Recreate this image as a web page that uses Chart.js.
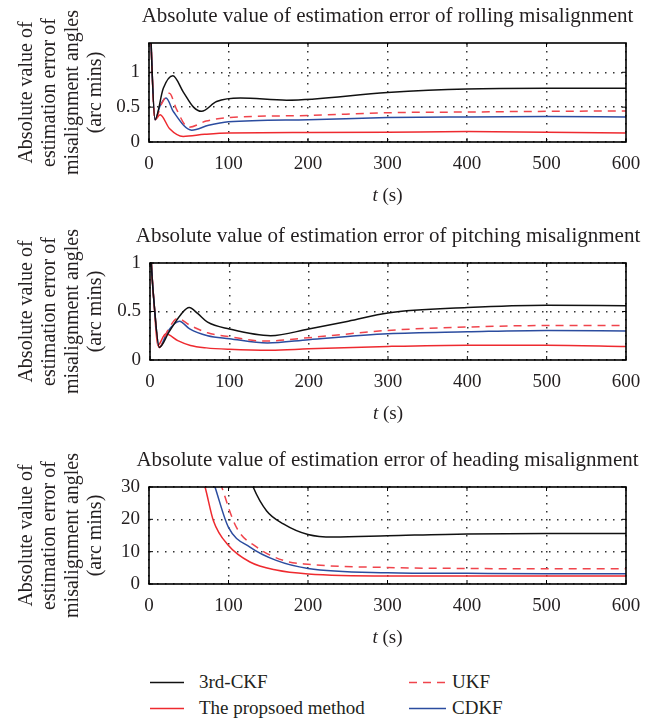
<!DOCTYPE html>
<html>
<head>
<meta charset="utf-8">
<script src="https://cdn.jsdelivr.net/npm/chart.js@4.4.0/dist/chart.umd.min.js"></script>
<style>
  body { margin: 0; background: #fff; }
  #wrap { position: relative; width: 669px; height: 724px; font-family: 'Liberation Serif', serif; color: #231f20; }
  .box { position: absolute; left: 0; width: 669px; }
  .leg { position: absolute; font-size: 19px; line-height: 22px; white-space: nowrap; }
</style>
</head>
<body>
<div id="wrap">
  <div class="box" style="top:0px;height:220px"><canvas id="roll-chart"></canvas></div>
  <div class="box" style="top:220px;height:222px"><canvas id="pitch-chart"></canvas></div>
  <div class="box" style="top:444px;height:206px"><canvas id="head-chart"></canvas></div>

  <svg class="leg" style="left:150px;top:681px" width="34" height="3"><line x1="0" y1="1.5" x2="34" y2="1.5" stroke="#111" stroke-width="1.5"/></svg>
  <div class="leg" style="left:199px;top:671px">3rd-CKF</div>
  <svg class="leg" style="left:409px;top:681px" width="37" height="3"><line x1="0" y1="1.5" x2="37" y2="1.5" stroke="#f0444c" stroke-width="1.5" stroke-dasharray="8,6"/></svg>
  <div class="leg" style="left:452px;top:671px">UKF</div>
  <svg class="leg" style="left:150px;top:707px" width="34" height="3"><line x1="0" y1="1.5" x2="34" y2="1.5" stroke="#ee2a2f" stroke-width="1.5"/></svg>
  <div class="leg" style="left:199px;top:697px">The propsoed method</div>
  <svg class="leg" style="left:409px;top:707px" width="37" height="3"><line x1="0" y1="1.5" x2="37" y2="1.5" stroke="#2b4c9f" stroke-width="1.5"/></svg>
  <div class="leg" style="left:452px;top:697px">CDKF</div>
</div>

<script>
let timeTicks = [0, 100, 200, 300, 400, 500, 600]
let rollTicks = [0, 0.5, 1]
let pitchTicks = [0, 0.5, 1]
let headTicks = [0, 10, 20, 30]

let yTitle = ['Absolute value of', 'estimation error of', 'misalignment angles', '(arc mins)']

// rolling misalignment (t in s, value in arc mins)
let roll_ckf_t = [0, 3, 7.5, 18, 30, 43, 56, 66, 85, 115, 173, 300, 400, 500, 600]
let roll_ckf = [2.5, 1.3, 0.32, 0.77, 0.95, 0.72, 0.50, 0.44, 0.58, 0.63, 0.60, 0.71, 0.76, 0.77, 0.77]
let roll_new_t = [0, 3, 7.5, 14, 26, 43, 70, 100, 200, 300, 400, 500, 600]
let roll_new = [2.5, 1.3, 0.32, 0.39, 0.19, 0.08, 0.11, 0.13, 0.135, 0.14, 0.15, 0.14, 0.13]
let roll_ukf_t = [0, 3, 7.5, 16, 25.6, 35, 49.5, 72, 100, 200, 300, 400, 500, 600]
let roll_ukf = [2.5, 1.3, 0.32, 0.55, 0.70, 0.46, 0.21, 0.30, 0.35, 0.38, 0.42, 0.43, 0.44, 0.445]
let roll_cdkf_t = [0, 3, 7.5, 14, 21.4, 31, 53.7, 75, 100, 200, 300, 400, 500, 600]
let roll_cdkf = [2.5, 1.3, 0.32, 0.52, 0.63, 0.43, 0.17, 0.24, 0.29, 0.32, 0.35, 0.36, 0.365, 0.36]

// pitching misalignment
let pitch_ckf_t = [0, 2, 5, 11.7, 24, 39, 49.5, 60, 72.6, 100, 152, 200, 250, 300, 400, 500, 600]
let pitch_ckf = [1.3, 0.95, 0.6, 0.13, 0.29, 0.47, 0.54, 0.48, 0.39, 0.32, 0.25, 0.32, 0.40, 0.485, 0.54, 0.565, 0.56]
let pitch_new_t = [0, 2, 5, 9.7, 20, 35, 51, 71, 100, 152, 200, 300, 400, 500, 600]
let pitch_new = [1.3, 0.95, 0.6, 0.15, 0.27, 0.20, 0.15, 0.125, 0.11, 0.10, 0.115, 0.14, 0.153, 0.153, 0.14]
let pitch_ukf_t = [0, 2, 5, 11.7, 22, 35, 50, 72.6, 100, 144, 200, 300, 400, 500, 600]
let pitch_ukf = [1.3, 0.95, 0.6, 0.13, 0.30, 0.43, 0.36, 0.28, 0.24, 0.195, 0.23, 0.305, 0.34, 0.355, 0.355]
let pitch_cdkf_t = [0, 2, 5, 11.7, 22, 37, 50, 72.6, 100, 148, 200, 300, 400, 500, 600]
let pitch_cdkf = [1.3, 0.95, 0.6, 0.13, 0.29, 0.40, 0.32, 0.25, 0.22, 0.175, 0.21, 0.27, 0.29, 0.305, 0.30]

// heading misalignment
let head_ckf_t = [100, 120, 131, 148, 169, 200, 232, 300, 400, 500, 600]
let head_ckf = [60, 38, 30, 22.6, 18.6, 15.3, 14.5, 14.9, 15.5, 15.6, 15.6]
let head_new_t = [50, 60, 70.5, 81, 100, 127, 160, 200, 300, 400, 500, 600]
let head_new = [50, 38, 30, 19.6, 11.9, 6.8, 4.3, 3.1, 2.5, 2.5, 2.5, 2.5]
let head_ukf_t = [70, 85, 91.5, 110, 135.6, 169, 200, 300, 400, 500, 600]
let head_ukf = [48, 35, 30, 17.5, 11.4, 7.3, 6.1, 5.1, 4.8, 4.7, 4.7]
let head_cdkf_t = [60, 75, 83, 100, 127, 160, 200, 300, 400, 500, 600]
let head_cdkf = [48, 36, 30, 17.5, 11.4, 7.3, 4.8, 3.5, 3.3, 3.2, 3.2]

let serif = "'Liberation Serif', serif"
let ink = '#231f20'

function pts(ts, vs) {
  return ts.map((t, i) => ({x: t, y: vs[i]}))
}

function line(label, ts, vs, color, dash) {
  return {
    label: label,
    data: pts(ts, vs),
    borderColor: color,
    borderWidth: 1.5,
    borderDash: dash || [],
    pointRadius: 0,
    fill: false,
    cubicInterpolationMode: 'monotone'
  }
}

// box + inner ticks like matlab, title over the plot, and the "t (s)" label
let framePlugin = {
  id: 'frame',
  afterDraw(chart, args, opts) {
    let ctx = chart.ctx
    let a = chart.chartArea
    let sx = chart.scales.x, sy = chart.scales.y
    ctx.save()
    ctx.strokeStyle = '#000'
    ctx.lineWidth = 1
    sx.ticks.forEach(tk => {
      let x = sx.getPixelForValue(tk.value)
      ctx.beginPath()
      ctx.moveTo(x, a.bottom); ctx.lineTo(x, a.bottom - 4)
      ctx.moveTo(x, a.top); ctx.lineTo(x, a.top + 4)
      ctx.stroke()
    })
    sy.ticks.forEach(tk => {
      let y = sy.getPixelForValue(tk.value)
      ctx.beginPath()
      ctx.moveTo(a.left, y); ctx.lineTo(a.left + 4, y)
      ctx.moveTo(a.right, y); ctx.lineTo(a.right - 4, y)
      ctx.stroke()
    })
    ctx.lineWidth = 1.6
    ctx.strokeRect(a.left, a.top, a.right - a.left, a.bottom - a.top)

    let cx = (a.left + a.right) / 2
    ctx.fillStyle = ink
    ctx.textBaseline = 'middle'
    ctx.textAlign = 'center'
    ctx.font = "21px 'Liberation Serif'"
    ctx.fillText(opts.title, cx, 16)

    let cy = a.bottom + 54
    ctx.textAlign = 'left'
    ctx.font = "italic 19px 'Liberation Serif'"
    let w1 = ctx.measureText('t').width
    ctx.font = "19px 'Liberation Serif'"
    let w2 = ctx.measureText(' (s)').width
    let x0 = cx - (w1 + w2) / 2
    ctx.font = "italic 19px 'Liberation Serif'"
    ctx.fillText('t', x0, cy)
    ctx.font = "19px 'Liberation Serif'"
    ctx.fillText(' (s)', x0 + w1, cy)
    ctx.restore()
  }
}

function makeOptions(title, yMax, yTicks, left, padBottom) {
  return {
    responsive: true,
    maintainAspectRatio: false,
    animation: false,
    layout: { padding: { left: 0, right: 43, top: 43, bottom: padBottom } },
    plugins: {
      legend: { display: false },
      tooltip: { enabled: false },
      title: { display: false },
      frame: { title: title }
    },
    scales: {
      x: {
        type: 'linear',
        min: 0,
        max: 600,
        afterBuildTicks: axis => { axis.ticks = timeTicks.map(v => ({value: v})) },
        afterFit: axis => { axis.height = 30 },
        grid: { display: true, drawOnChartArea: true, color: '#333', lineWidth: 1.5, drawTicks: false },
        border: { display: false, dash: [1.5, 6.5] },
        ticks: { color: ink, padding: 11, font: { family: serif, size: 19 }, maxRotation: 0 }
      },
      y: {
        type: 'linear',
        min: 0,
        max: yMax,
        afterBuildTicks: axis => { axis.ticks = yTicks.map(v => ({value: v})) },
        afterFit: axis => { axis.width = left },
        grid: { display: true, drawOnChartArea: true, color: '#333', lineWidth: 1.5, drawTicks: false },
        border: { display: false, dash: [1.5, 6.5] },
        ticks: { color: ink, padding: 9, font: { family: serif, size: 19 }, callback: v => String(v) },
        title: {
          display: true,
          text: yTitle,
          color: ink,
          font: { family: serif, size: 20, lineHeight: 1.15 },
          padding: { top: 15.5, bottom: 0 }
        }
      }
    }
  }
}

let chart_roll = new Chart(document.querySelector('#roll-chart'), {
  type: 'line',
  data: {
    datasets: [
      line('3rd-CKF', roll_ckf_t, roll_ckf, '#111111'),
      line('UKF', roll_ukf_t, roll_ukf, '#f0444c', [8, 6]),
      line('CDKF', roll_cdkf_t, roll_cdkf, '#2b4c9f'),
      line('The propsoed method', roll_new_t, roll_new, '#ee2a2f')
    ]
  },
  options: makeOptions('Absolute value of estimation error of rolling misalignment', 1.42, rollTicks, 149, 48),
  plugins: [framePlugin]
})

let chart_pitch = new Chart(document.querySelector('#pitch-chart'), {
  type: 'line',
  data: {
    datasets: [
      line('3rd-CKF', pitch_ckf_t, pitch_ckf, '#111111'),
      line('UKF', pitch_ukf_t, pitch_ukf, '#f0444c', [8, 6]),
      line('CDKF', pitch_cdkf_t, pitch_cdkf, '#2b4c9f'),
      line('The propsoed method', pitch_new_t, pitch_new, '#ee2a2f')
    ]
  },
  options: makeOptions('Absolute value of estimation error of pitching misalignment', 1, pitchTicks, 150, 52),
  plugins: [framePlugin]
})

let chart_head = new Chart(document.querySelector('#head-chart'), {
  type: 'line',
  data: {
    datasets: [
      line('3rd-CKF', head_ckf_t, head_ckf, '#111111'),
      line('UKF', head_ukf_t, head_ukf, '#f0444c', [8, 6]),
      line('CDKF', head_cdkf_t, head_cdkf, '#2b4c9f'),
      line('The propsoed method', head_new_t, head_new, '#ee2a2f')
    ]
  },
  options: makeOptions('Absolute value of estimation error of heading misalignment', 30, headTicks, 149, 36),
  plugins: [framePlugin]
})
</script>
</body>
</html>
